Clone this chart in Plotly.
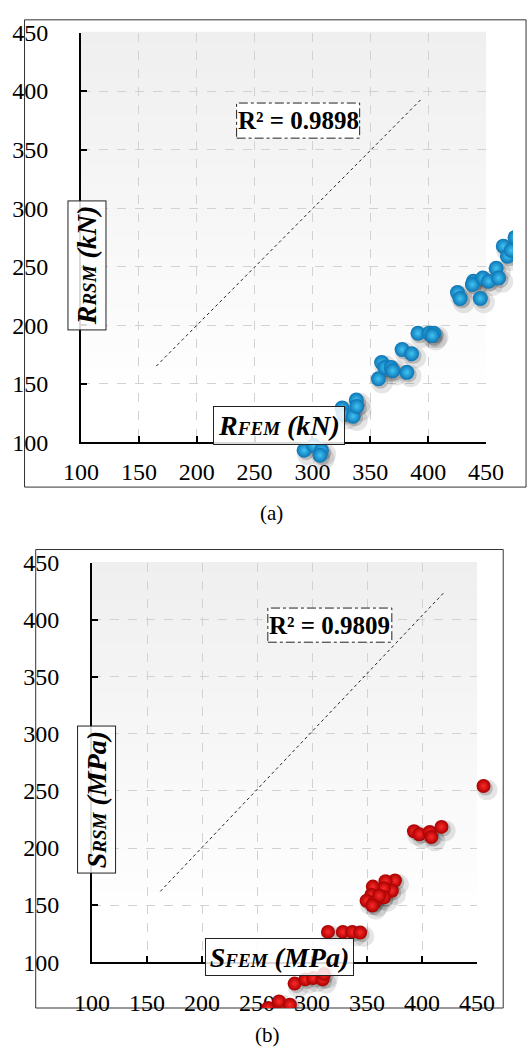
import plotly.graph_objects as go
import numpy as np

W, H = 531, 1061

# ---------------- data ----------------
# (a) R_FEM vs R_RSM (kN)
r_fem = [292.8, 301.0, 307.8, 306.5, 325.6, 327.0, 335.2, 337.9, 338.4, 357.0,
         359.8, 362.5, 368.0, 369.3, 377.5, 385.7, 381.6, 391.2, 400.8, 404.9,
         403.5, 425.4, 427.6, 439.1, 438.3, 445.1, 447.3, 452.2, 458.8, 460.9,
         465.0, 468.6, 471.9, 475.2]
r_rsm = [93.1, 97.2, 93.1, 88.9, 129.2, 123.6, 122.2, 136.1, 130.6, 154.2,
         168.1, 163.9, 163.9, 161.1, 179.2, 175.6, 159.7, 193.1, 193.1, 193.1,
         191.1, 227.8, 222.8, 237.5, 234.7, 222.8, 240.3, 237.5, 248.6, 240.3,
         267.5, 258.9, 263.9, 275.0]
fit_a_x = [165, 394]
fit_a_y = [165, 393]
r2_a = "R² = 0.9898"

# (b) S_FEM vs S_RSM (MPa)
s_fem = [455.8, 392.6, 397.5, 406.9, 408.4, 417.6, 375.3, 366.7, 372.5, 365.3,
         355.2, 353.8, 365.3, 349.5, 356.6, 361.0, 354.7, 314.4, 327.9, 336.5,
         343.7, 284.1, 293.9, 301.0, 309.5, 310.9, 269.9, 279.8, 260.0]
s_rsm = [254.3, 214.7, 212.1, 214.1, 209.7, 218.5, 171.5, 170.9, 162.6, 164.7,
         166.2, 158.8, 156.8, 153.8, 152.3, 158.2, 149.6, 126.5, 126.5, 126.5,
         125.9, 81.2, 84.9, 86.1, 84.9, 89.7, 65.6, 62.7, 59.8]
fit_b_x = [162, 420]
fit_b_y = [162, 424]
r2_b = "R² = 0.9809"

tick_vals = [100, 150, 200, 250, 300, 350, 400, 450]
tick_text = [str(v) for v in tick_vals]
AX_MIN, AX_MAX = 100, 450

FONT = "Liberation Serif"


def px_x(px):
    return px / W


def px_y(py):
    return 1 - py / H


# panel geometry in pixels: plot area (left, right, top, bottom) and frame
PA = dict(l=67.7, r=502.0, t=20.0, b=440.0)
FA = dict(l=0.0, r=531.0, t=0.0, b=486.0)
PB = dict(l=79.5, r=492.5, t=563.5, b=973.0)
FB = dict(l=19.0, r=520.5, t=550.0, b=1020.0)


def ext_range(p, f):
    """Range of an overlay axis spanning the frame, matched to the plot scale."""
    kx = (AX_MAX - AX_MIN) / (p["r"] - p["l"])
    ky = (AX_MAX - AX_MIN) / (p["b"] - p["t"])
    xr = [AX_MIN - (p["l"] - f["l"]) * kx, AX_MAX + (f["r"] - p["r"]) * kx]
    yr = [AX_MIN - (f["b"] - p["b"]) * ky, AX_MAX + (p["t"] - f["t"]) * ky]
    return xr, yr, kx, ky


fig = go.Figure()


def add_points(xs, ys, xa, ya, col_edge, col_center, size, kx, ky):
    xs = np.array(xs)
    ys = np.array(ys)
    sdx, sdy = 3 * kx, 3 * ky
    fig.add_trace(go.Scatter(
        x=xs + sdx * 1.3, y=ys - sdy * 1.3, mode="markers", xaxis=xa, yaxis=ya,
        marker=dict(size=size + 7, color="rgba(0,0,0,0.10)", line=dict(width=0)),
        hoverinfo="skip", showlegend=False))
    fig.add_trace(go.Scatter(
        x=xs + sdx * 0.7, y=ys - sdy * 0.7, mode="markers", xaxis=xa, yaxis=ya,
        marker=dict(size=size + 1, color="rgba(0,0,0,0.18)", line=dict(width=0)),
        hoverinfo="skip", showlegend=False))
    fig.add_trace(go.Scatter(
        x=xs, y=ys, mode="markers", xaxis=xa, yaxis=ya,
        marker=dict(size=size, color=col_edge,
                    gradient=dict(type="radial", color=col_center),
                    line=dict(width=0)),
        showlegend=False))


def add_fit(fx, fy, xa, ya):
    fig.add_trace(go.Scatter(
        x=fx, y=fy, mode="lines", xaxis=xa, yaxis=ya,
        line=dict(color="#222222", width=1, dash="dot"),
        showlegend=False, hoverinfo="skip"))


xr_a, yr_a, kxa, kya = ext_range(PA, FA)
xr_b, yr_b, kxb, kyb = ext_range(PB, FB)

add_fit(fit_a_x, fit_a_y, "x", "y")
add_fit(fit_b_x, fit_b_y, "x2", "y2")
add_points(r_fem, r_rsm, "x3", "y3", "#0c74b4", "#40c4f4", 15, kxa, kya)
add_points(s_fem, s_rsm, "x4", "y4", "#a80000", "#ff2a2a", 14, kxb, kyb)

axis_common = dict(
    range=[AX_MIN, AX_MAX], tickvals=tick_vals, ticktext=tick_text,
    showgrid=True, gridcolor="#d2d2d2", griddash="dash", gridwidth=1,
    showline=True, linecolor="black", linewidth=2,
    ticks="inside", ticklen=6, tickwidth=1.5, tickcolor="black",
    zeroline=False, tickfont=dict(family=FONT, size=24, color="black"),
)
hidden = dict(visible=False, showgrid=False, zeroline=False, fixedrange=True)

fig.update_layout(
    width=W, height=H, margin=dict(l=0, r=0, t=0, b=0),
    paper_bgcolor="white", plot_bgcolor="rgba(0,0,0,0)",
    xaxis=dict(domain=[px_x(PA["l"]), px_x(PA["r"])], anchor="y",
               ticklabelstandoff=7, **axis_common),
    yaxis=dict(domain=[px_y(PA["b"]), px_y(PA["t"])], anchor="x",
               ticklabelstandoff=26, **axis_common),
    xaxis2=dict(domain=[px_x(PB["l"]), px_x(PB["r"])], anchor="y2",
                ticklabelstandoff=18, **axis_common),
    yaxis2=dict(domain=[px_y(PB["b"]), px_y(PB["t"])], anchor="x2",
                ticklabelstandoff=26, **axis_common),
    xaxis3=dict(domain=[px_x(FA["l"]), px_x(FA["r"])], anchor="y3",
                range=xr_a, **hidden),
    yaxis3=dict(domain=[px_y(FA["b"]), px_y(FA["t"])], anchor="x3",
                range=yr_a, **hidden),
    xaxis4=dict(domain=[px_x(FB["l"]), px_x(FB["r"])], anchor="y4",
                range=xr_b, **hidden),
    yaxis4=dict(domain=[px_y(FB["b"]), px_y(FB["t"])], anchor="x4",
                range=yr_b, **hidden),
)

shapes = []
# vertical gradient in plot areas
N = 40
for xr, yr in [("x domain", "y domain"), ("x2 domain", "y2 domain")]:
    for i in range(N):
        t = (i + 0.5) / N
        g = 255 - 16 * max(0.0, (t - 0.12) / 0.88) ** 0.9
        c = int(round(g))
        shapes.append(dict(type="rect", xref=xr, yref=yr, x0=0, x1=1,
                           y0=i / N, y1=(i + 1) / N + 0.002,
                           fillcolor=f"rgb({c},{c},{c})",
                           line=dict(width=0), layer="below"))

# outer frames
shapes.append(dict(type="rect", xref="paper", yref="paper",
                   x0=px_x(7), x1=px_x(545), y0=px_y(486), y1=px_y(7),
                   line=dict(color="#333333", width=1), layer="below"))
shapes.append(dict(type="rect", xref="paper", yref="paper",
                   x0=px_x(FB["l"]), x1=px_x(FB["r"]),
                   y0=px_y(FB["b"]), y1=px_y(FB["t"]),
                   line=dict(color="#333333", width=1), layer="below"))

# R² boxes (dash-dot border)
for cx, cy, w, h in [(300.5, 110.3, 132, 36), (334.5, 627.5, 133, 35)]:
    shapes.append(dict(type="rect", xref="paper", yref="paper",
                       x0=px_x(cx - w / 2), x1=px_x(cx + w / 2),
                       y0=px_y(cy + h / 2), y1=px_y(cy - h / 2),
                       fillcolor="white",
                       line=dict(color="#222222", width=1, dash="dashdot"),
                       layer="above"))

fig.update_layout(shapes=shapes)

annotations = []
for cx, cy, txt in [(300.5, 110.3, r2_a), (334.5, 627.5, r2_b)]:
    annotations.append(dict(x=px_x(cx), y=px_y(cy), xref="paper", yref="paper",
                            text=f"<b>{txt}</b>", showarrow=False,
                            font=dict(family=FONT, size=25, color="black"),
                            xanchor="center", yanchor="middle"))

SM = 'style="font-size:19px"'
titles = [
    # (cx, cy, box_w, box_h, text, angle)
    (74.5, 258.3, 39, 130, f"<b><i>R<span {SM}>RSM</span> (kN)</i></b>", -90),
    (279.5, 422.8, 132, 39, f"<b><i>R<span {SM}>FEM</span> (kN)</i></b>", 0),
    (84.0, 806.0, 39, 148, f"<b><i>S<span {SM}>RSM</span> (MPa)</i></b>", -90),
    (281.0, 968.0, 149, 38, f"<b><i>S<span {SM}>FEM</span> (MPa)</i></b>", 0),
]
for cx, cy, bw, bh, txt, ang in titles:
    if ang == 0:
        w, h = bw - 2, bh - 2
    else:
        w, h = bh - 2, bw - 2
    annotations.append(dict(x=px_x(cx), y=px_y(cy), xref="paper", yref="paper",
                            text=txt, showarrow=False, textangle=ang,
                            width=w, height=h, borderpad=0,
                            bordercolor="#222222", borderwidth=1,
                            bgcolor="rgba(255,255,255,0.85)",
                            font=dict(family=FONT, size=28, color="black"),
                            xanchor="center", yanchor="middle"))

for cx, cy, txt in [(272, 513, "(a)"), (268, 1048, "(b)")]:
    annotations.append(dict(x=px_x(cx), y=px_y(cy), xref="paper", yref="paper",
                            text=txt, showarrow=False,
                            font=dict(family=FONT, size=21, color="black"),
                            xanchor="center", yanchor="middle"))

fig.update_layout(annotations=annotations)

fig.write_html("out.html")
